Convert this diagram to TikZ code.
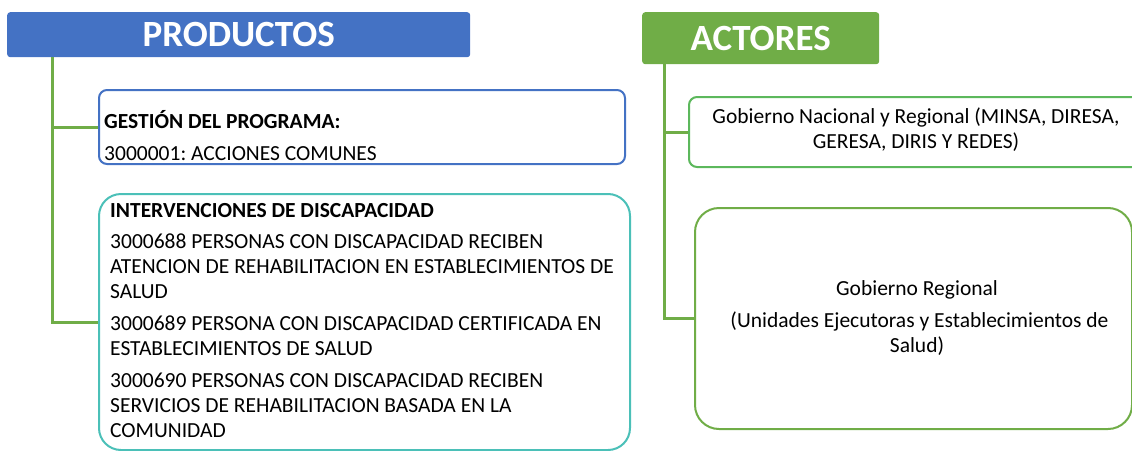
\documentclass[tikz,border=0pt]{standalone}
\usepackage{fontspec}
\setmainfont{Carlito}
\usetikzlibrary{positioning}
\definecolor{hdrblue}{HTML}{4472C4}
\definecolor{hdrgreen}{HTML}{70AD47}
\definecolor{tealline}{HTML}{4BC0B8}
\definecolor{lightgreen}{HTML}{5CB85C}
\frenchspacing

\begin{document}
\begin{tikzpicture}
[x=1pt,y=-1pt]
\tikzset{
	header/.style = {rounded corners=3pt, text=white, font=\fontsize{37}{40}\selectfont\bfseries, anchor=north west, inner sep=0},
	card/.style = {draw, line width=2pt, fill=white, anchor=north west, inner sep=0},
	trunk/.style = {hdrgreen, line width=3pt},
	lefttext/.style = {font=\fontsize{21.5}{25}\selectfont, inner sep=0, anchor=base west, align=left},
	midtext/.style = {font=\fontsize{21.5}{25}\selectfont, inner sep=0, anchor=base, align=center}
}
\useasboundingbox (0,0) rectangle (1132,450);
\clip (0,0) rectangle (1132,450);

\node(productos) [header, fill=hdrblue, minimum width=463, minimum height=45] at (7,12) {PRODUCTOS};
\node(actores) [header, fill=hdrgreen, minimum width=237, minimum height=52] at (642,12) {ACTORES};

\node(gestion) [card, draw=hdrblue, rounded corners=8pt, minimum width=526, minimum height=74] at (98,89) {};
\node(interv) [card, draw=tealline, rounded corners=22pt, minimum width=531, minimum height=256] at (98,193) {};
\node(nacional) [card, draw=lightgreen, rounded corners=8pt, minimum width=460, minimum height=70] at (688,96) {};
\node(regional) [card, draw=hdrgreen, rounded corners=24pt, minimum width=437, minimum height=221] at (694,207) {};

\node(gestiontxt) [lefttext] at (104,160) {\textbf{GESTIÓN DEL PROGRAMA:}\\[7pt]3000001: ACCIONES COMUNES};
\node(intervtxt) [lefttext] at (110,437) {\textbf{INTERVENCIONES DE DISCAPACIDAD}\\[6pt]
	3000688 PERSONAS CON DISCAPACIDAD RECIBEN\\ATENCION DE REHABILITACION EN ESTABLECIMIENTOS DE\\SALUD\\[7pt]
	3000689 PERSONA CON DISCAPACIDAD CERTIFICADA EN\\ESTABLECIMIENTOS DE SALUD\\[7pt]
	3000690 PERSONAS CON DISCAPACIDAD RECIBEN\\SERVICIOS DE REHABILITACION BASADA EN LA\\COMUNIDAD};
\node(nacionaltxt) [midtext] at (916,148) {Gobierno Nacional y Regional (MINSA, DIRESA,\\GERESA, DIRIS Y REDES)};
\node(regionaltxt) [midtext] at (917,352) {Gobierno Regional\\[7pt]\hspace{5pt}(Unidades Ejecutoras y Establecimientos de\\Salud)};

\coordinate (ptrunk) at ([xshift=45pt]productos.south west);
\coordinate (atrunk) at ([xshift=22pt]actores.south west);
\draw[trunk] (ptrunk) |- (interv.west);
\draw[trunk] (ptrunk |- gestion.west) -- (gestion.west);
\draw[trunk] (atrunk) |- (regional.west);
\draw[trunk] (atrunk |- nacional.west) -- (nacional.west);
\end{tikzpicture}
\end{document}
